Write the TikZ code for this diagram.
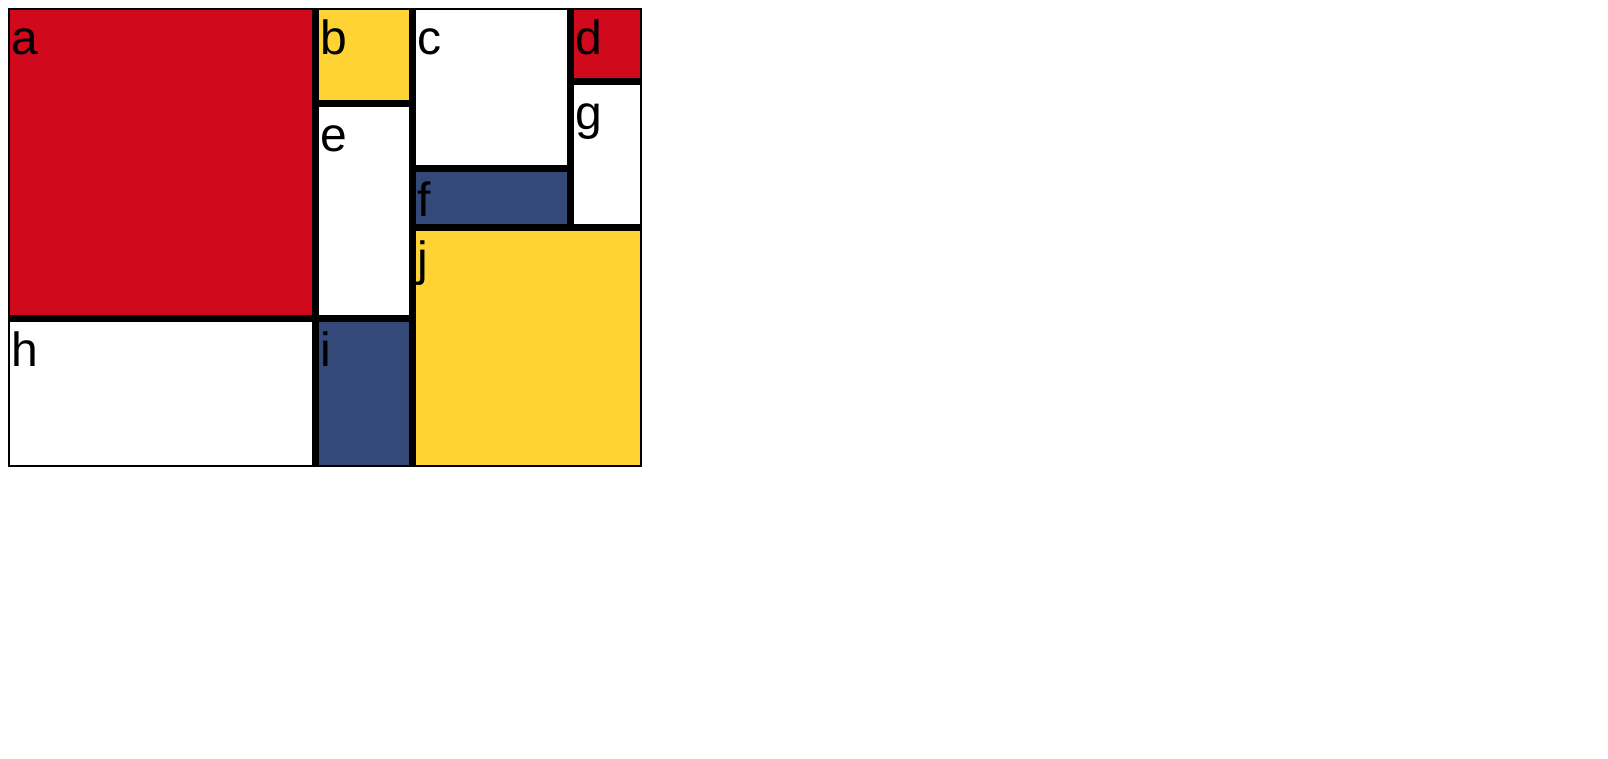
\documentclass[tikz,border=0pt]{standalone}
\usepackage{fontspec}
\setmainfont{Liberation Sans}
\definecolor{mred}{RGB}{209,9,29}
\definecolor{myellow}{RGB}{254,211,51}
\definecolor{mblue}{RGB}{53,73,120}
\tikzset{
  lbl/.style={anchor=base west, inner sep=0pt, font=\fontsize{48}{48}\selectfont, text=black},
  cellbox/.style={inner sep=0pt, outer sep=0pt}
}
\begin{document}
\begin{tikzpicture}[x=1pt,y=-1pt]
\useasboundingbox[fill=white] (0,0) rectangle (1608,758);
\fill[black] (8,8) rectangle (642,467);
% cells
\fill[mred] (10,10) rectangle (312,315);
\node[lbl] (la) at (11,54) {a};
\fill[myellow] (319,10) rectangle (409,100);
\node[lbl] (lb) at (320,54) {b};
\fill[white] (416,10) rectangle (567,165);
\node[lbl] (lc) at (417,54) {c};
\fill[mred] (574,10) rectangle (640,78);
\node[lbl] (ld) at (575,54) {d};
\fill[white] (319,107) rectangle (409,315);
\node[lbl] (le) at (320,151) {e};
\fill[mblue] (416,172) rectangle (567,224);
\node[lbl] (lf) at (417,216) {f};
\fill[white] (574,85) rectangle (640,224);
\node[lbl] (lg) at (575,129) {g};
\fill[white] (10,322) rectangle (312,465);
\node[lbl] (lh) at (11,366) {h};
\fill[mblue] (319,322) rectangle (409,465);
\node[lbl] (li) at (320,366) {i};
\fill[myellow] (416,231) rectangle (640,465);
\node[lbl] (lj) at (417,275) {j};
\end{tikzpicture}
\end{document}
